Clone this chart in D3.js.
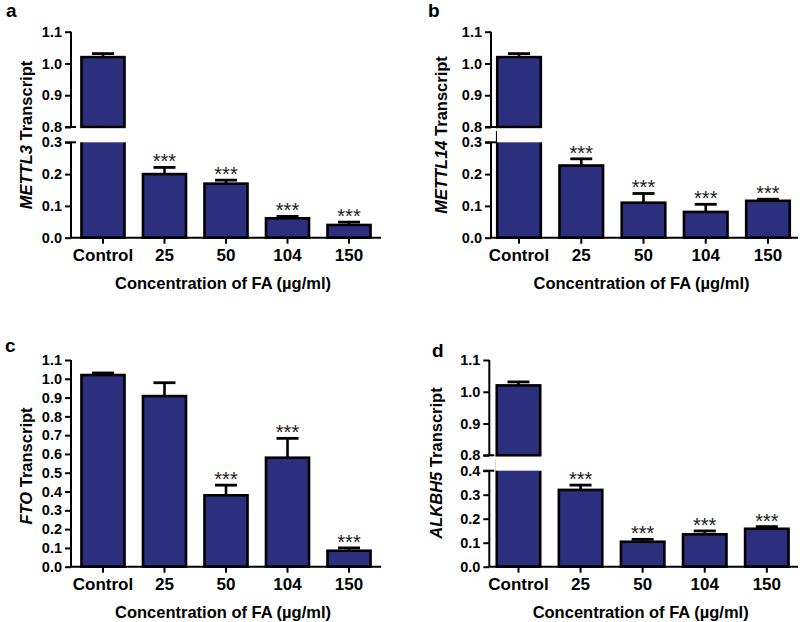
<!DOCTYPE html>
<html><head><meta charset="utf-8">
<script src="https://cdn.jsdelivr.net/npm/d3@7/dist/d3.min.js"></script>
<style>
body{margin:0;background:#fff;}
svg{display:block;font-family:"Liberation Sans",Arial,sans-serif;}
</style></head>
<body><svg id="chart" width="800" height="622"></svg>
<script>
const categories = ["Control", "25", "50", "104", "150"];
const panelLabels = ["a", "b", "c", "d"];
const genes = ["METTL3", "METTL14", "FTO", "ALKBH5"];
const xTitle = "Concentration of FA (µg/ml)";

const mettl3Mean = [1.02, 0.20, 0.17, 0.061, 0.04];
const mettl3Err  = [0.011, 0.021, 0.011, 0.006, 0.009];
const mettl14Mean = [1.02, 0.227, 0.11, 0.081, 0.116];
const mettl14Err  = [0.011, 0.021, 0.029, 0.024, 0.005];
const ftoMean = [1.02, 0.908, 0.38, 0.58, 0.085];
const ftoErr  = [0.011, 0.071, 0.054, 0.103, 0.015];
const alkbh5Mean = [1.02, 0.32, 0.104, 0.135, 0.158];
const alkbh5Err  = [0.011, 0.02, 0.01, 0.014, 0.009];

const sigA = ["", "***", "***", "***", "***"];
const sigB = ["", "***", "***", "***", "***"];
const sigC = ["", "", "***", "***", "***"];
const sigD = ["", "***", "***", "***", "***"];

const upperTicksAB = [0.8, 0.9, 1.0, 1.1];
const lowerTicksAB = [0.0, 0.1, 0.2, 0.3];
const upperTicksD = [0.8, 0.9, 1.0, 1.1];
const lowerTicksD = [0.0, 0.1, 0.2, 0.3, 0.4];
const ticksC = [0.0, 0.1, 0.2, 0.3, 0.4, 0.5, 0.6, 0.7, 0.8, 0.9, 1.0, 1.1];

const BAR = "#2b2f7e";
const FONT = "'Liberation Sans',Arial,sans-serif";
const svg = d3.select("#chart");

const panels = [
  {label: panelLabels[0], gene: genes[0], mean: mettl3Mean, err: mettl3Err, sig: sigA,
   ax: 71, axEnd: 381, xr: [71, 381], po: 0.17, lab: [6, 17], yTitle: [32, 135],
   segs: [{dom: [0.8, 1.1], r: [127, 31.7], ticks: upperTicksAB},
          {dom: [0, 0.3], r: [237.7, 142.3], ticks: lowerTicksAB}]},
  {label: panelLabels[1], gene: genes[1], mean: mettl14Mean, err: mettl14Err, sig: sigB,
   ax: 491, axEnd: 798, xr: [491, 796], po: 0.1, lab: [428, 17], yTitle: [447, 135],
   segs: [{dom: [0.8, 1.1], r: [127, 31.7], ticks: upperTicksAB},
          {dom: [0, 0.3], r: [237.7, 142.3], ticks: lowerTicksAB}]},
  {label: panelLabels[2], gene: genes[2], mean: ftoMean, err: ftoErr, sig: sigC,
   ax: 71, axEnd: 381, xr: [71, 381], po: 0.17, lab: [5, 352], yTitle: [32, 466],
   segs: [{dom: [0, 1.1], r: [566.7, 360], ticks: ticksC}]},
  {label: panelLabels[3], gene: genes[3], mean: alkbh5Mean, err: alkbh5Err, sig: sigD,
   ax: 489.3, axEnd: 798, xr: [489.3, 796], po: 0.12, lab: [432, 357], yTitle: [442, 463],
   segs: [{dom: [0.8, 1.1], r: [455.3, 360], ticks: upperTicksD},
          {dom: [0, 0.4], r: [566.7, 470.7], ticks: lowerTicksD}]}
];

panels.forEach(p => {
  const g = svg.append("g");
  const x = d3.scaleBand().domain(categories).range(p.xr).paddingInner(0.3).paddingOuter(p.po);
  const data = categories.map((c, i) => ({c, v: p.mean[i], e: p.err[i], s: p.sig[i]}));
  const baseY = p.segs[p.segs.length - 1].r[0];

  p.segs.forEach((s, si) => {
    const y = d3.scaleLinear().domain(s.dom).range(s.r);
    const isLower = si === p.segs.length - 1;
    const vis = data.filter(d => d.v > s.dom[0]);
    const topOf = d => d.v > s.dom[1] ? s.r[1] - 10 : y(d.v);
    g.append("g").selectAll("rect").data(vis).enter().append("rect")
      .attr("x", d => x(d.c)).attr("width", x.bandwidth())
      .attr("y", topOf)
      .attr("height", d => y(s.dom[0]) - topOf(d))
      .attr("fill", BAR).attr("stroke", "#000").attr("stroke-width", 2.6);
    // error bars and significance
    const inSeg = data.filter(d => d.v <= s.dom[1] && d.v > s.dom[0]);
    inSeg.forEach(d => {
      const cx = x(d.c) + x.bandwidth() / 2;
      const ye = y(d.v + d.e);
      g.append("line").attr("x1", cx).attr("x2", cx).attr("y1", y(d.v)).attr("y2", ye)
        .attr("stroke", "#000").attr("stroke-width", 2.6);
      g.append("line").attr("x1", cx - 11).attr("x2", cx + 11).attr("y1", ye).attr("y2", ye)
        .attr("stroke", "#000").attr("stroke-width", 2.8);
      if (d.s) {
        g.append("text").attr("x", cx).attr("y", ye + 1).attr("text-anchor", "middle")
          .attr("font-size", 20).attr("fill", "#222").text(d.s);
      }
    });
    // y axis
    const axis = d3.axisLeft(y).tickValues(s.ticks).tickSize(6).tickPadding(3)
      .tickFormat(d3.format(".1f"));
    const ag = g.append("g").attr("transform", `translate(${p.ax},0)`).call(axis);
    ag.select(".domain").remove();
    ag.append("line").attr("x1", 0).attr("x2", 0).attr("y1", s.r[0]).attr("y2", s.r[1])
      .attr("stroke", "#000").attr("stroke-width", 2);
    ag.selectAll(".tick line").attr("stroke", "#000").attr("stroke-width", 2);
    ag.selectAll(".tick text").attr("font-size", 14.5).attr("font-weight", "bold").attr("fill", "#000")
      .attr("font-family", FONT);
    if (p.segs.length > 1) {
      const yb = isLower ? s.r[1] : s.r[0];
      ag.append("line").attr("x1", -6).attr("x2", 5).attr("y1", yb).attr("y2", yb)
        .attr("stroke", "#000").attr("stroke-width", 2);
    }
  });

  // white gap between segments
  if (p.segs.length > 1) {
    const top = p.segs[0].r[0], bot = p.segs[1].r[1];
    g.append("rect").attr("x", p.ax + 6).attr("y", top + 1.6).attr("width", 330)
      .attr("height", bot - top - 1.6).attr("fill", "#fff");
  }

  // x axis
  const xa = d3.axisBottom(x).tickSize(6).tickPadding(5);
  const xg = g.append("g").attr("transform", `translate(0,${baseY})`).call(xa);
  xg.select(".domain").remove();
  xg.append("line").attr("x1", p.ax).attr("x2", p.axEnd).attr("y1", 0).attr("y2", 0)
    .attr("stroke", "#000").attr("stroke-width", 2);
  xg.selectAll(".tick line").attr("stroke", "#000").attr("stroke-width", 2);
  xg.selectAll(".tick text").attr("font-size", 17).attr("font-weight", "bold").attr("fill", "#000")
    .attr("font-family", FONT);

  g.append("text").attr("x", (p.ax + p.axEnd) / 2 - 3).attr("y", baseY + 51).attr("text-anchor", "middle")
    .attr("font-size", 16.5).attr("font-weight", "bold").attr("fill", "#000").text(xTitle);

  const yt = g.append("text").attr("transform", `translate(${p.yTitle[0]},${p.yTitle[1]}) rotate(-90)`)
    .attr("text-anchor", "middle").attr("font-size", 16.5).attr("font-weight", "bold").attr("fill", "#000");
  yt.append("tspan").attr("font-style", "italic").text(p.gene);
  yt.append("tspan").text(" Transcript");

  g.append("text").attr("x", p.lab[0]).attr("y", p.lab[1]).attr("font-size", 19).attr("font-weight", "bold")
    .attr("fill", "#000").text(p.label);
});
</script></body></html>
